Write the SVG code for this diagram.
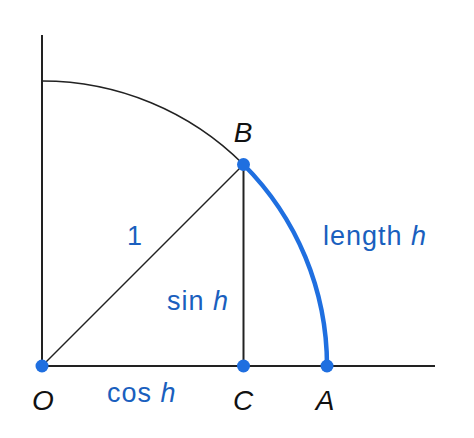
<svg xmlns="http://www.w3.org/2000/svg" width="474" height="438" viewBox="0 0 474 438">
<style>
.ax{stroke:#222;stroke-width:2;fill:none}
.ln{stroke:#222;stroke-width:1.5;fill:none}
.arc{stroke:#1f6fe0;stroke-width:4.5;fill:none;stroke-linecap:round}
.dot{fill:#1f6fe0}
.lbl{font-family:"Liberation Sans",Arial,sans-serif;font-size:28px;font-style:italic;fill:#111}
.blu{font-family:"Liberation Sans",Arial,sans-serif;font-size:27px;letter-spacing:1px;fill:#1a5fbe}
</style>
<rect width="474" height="438" fill="#fff"/>
<g id="connectors">
<line class="ax" x1="42" y1="35" x2="42" y2="366"/>
<line class="ax" x1="42" y1="366" x2="435" y2="366"/>
<path class="ln" d="M42,81 A285,285 0 0 1 243.5,164.5"/>
<line class="ln" x1="42" y1="366" x2="243.5" y2="164.5"/>
<line class="ax" x1="243.5" y1="164.5" x2="243.5" y2="366"/>
<path class="arc" d="M243.5,164.5 A285,285 0 0 1 327,366"/>
</g>
<g id="O"><circle class="dot" cx="42" cy="366" r="6.5"/><text class="lbl" x="43" y="410" text-anchor="middle">O</text></g>
<g id="C"><circle class="dot" cx="243.5" cy="366" r="6.5"/><text class="lbl" x="243" y="410" text-anchor="middle">C</text></g>
<g id="A"><circle class="dot" cx="327" cy="366" r="6.5"/><text class="lbl" x="325" y="410" text-anchor="middle">A</text></g>
<g id="B"><circle class="dot" cx="243.5" cy="164.5" r="6.5"/><text class="lbl" x="243" y="142" text-anchor="middle">B</text></g>
<g id="labels">
<text class="blu" x="135" y="245" text-anchor="middle">1</text>
<text class="blu" x="167" y="310">sin <tspan font-style="italic">h</tspan></text>
<text class="blu" x="323" y="245">length <tspan font-style="italic">h</tspan></text>
<text class="blu" x="107" y="402">cos <tspan font-style="italic">h</tspan></text>
</g>
</svg>
